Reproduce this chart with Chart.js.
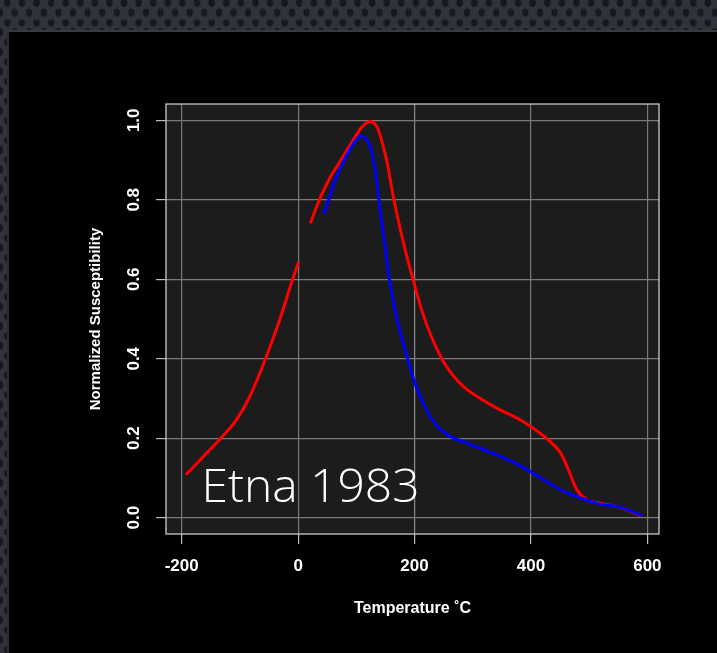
<!DOCTYPE html>
<html>
<head>
<meta charset="utf-8">
<script src="https://cdn.jsdelivr.net/npm/chart.js@4.4.1/dist/chart.umd.min.js"></script>
<style>
  html, body { margin: 0; padding: 0; }
  body {
    width: 717px; height: 653px; overflow: hidden; position: relative;
    background-color: #30333a;
    background-image:
      radial-gradient(ellipse 3.6px 4.6px at 7.3px 2.8px, #16181c 0 80%, rgba(22,24,28,0) 100%),
      radial-gradient(ellipse 3.6px 4.6px at 0px 12.6px, #16181c 0 80%, rgba(22,24,28,0) 100%),
      radial-gradient(ellipse 3.6px 4.6px at 14.6px 12.6px, #16181c 0 80%, rgba(22,24,28,0) 100%);
    background-size: 14.6px 19.6px;
  }
  #frame {
    position: absolute; left: 7px; top: 30px; right: 0; bottom: 0;
    background: #000;
    border-left: 2px solid #2c2d30;
    border-top: 2px solid #3a3b3e;
  }
  #c { position: absolute; left: 0; top: 0; }
</style>
</head>
<body>
<div id="frame"></div>
<canvas id="c" width="717" height="653"></canvas>
<script>
// Red curve (two segments, gap between 0 and ~20 C)
const redTemp = [-193, -175, -157.6, -134.7, -106, -83, -56, -31.6, -9.8, 1,
  null,
  21, 38.3, 55, 72.7, 89.9, 107, 117, 124, 131, 136, 141, 147, 153, 164.3, 181.4, 197.6, 216, 245, 265, 284, 313, 342, 382, 400, 428, 451, 462, 479, 496, 519.6, 548, 565, 590];
const redSus = [0.108, 0.135, 0.162, 0.197, 0.246, 0.305, 0.4, 0.498, 0.598, 0.644,
  null,
  0.741, 0.806, 0.856, 0.898, 0.939, 0.978, 0.993, 0.997, 0.992, 0.982, 0.962, 0.93, 0.893, 0.802, 0.689, 0.599, 0.506, 0.405, 0.36, 0.33, 0.3, 0.275, 0.246, 0.229, 0.198, 0.163, 0.129, 0.07, 0.045, 0.036, 0.028, 0.02, 0.004];

// Blue curve
const blueTemp = [44, 52.6, 61.2, 78.4, 95.5, 103, 108, 113, 118, 124.2, 132.8, 138.5, 147.1, 156.9, 164.3, 172.9, 188.3, 198.6, 210, 227, 245, 262, 290, 319, 342, 370, 399, 430, 456, 485, 514, 554, 575, 591];
const blueSus = [0.764, 0.8, 0.84, 0.898, 0.942, 0.955, 0.961, 0.959, 0.95, 0.932, 0.873, 0.802, 0.706, 0.599, 0.538, 0.481, 0.4, 0.347, 0.305, 0.254, 0.222, 0.204, 0.188, 0.171, 0.158, 0.14, 0.116, 0.088, 0.066, 0.05, 0.036, 0.026, 0.015, 0.005];

const xTicks = [-200, 0, 200, 400, 600];
const yTicks = [0.0, 0.2, 0.4, 0.6, 0.8, 1.0];
const yTickLabels = ['0.0', '0.2', '0.4', '0.6', '0.8', '1.0'];

const xTitle = 'Temperature ˚C';
const yTitle = 'Normalized Susceptibility';
const annotation = 'Etna 1983';

function pts(xs, ys) {
  return xs.map((x, i) => (x === null ? { x: NaN, y: null } : { x: x, y: ys[i] }));
}

const bgPlugin = {
  id: 'plotbg',
  beforeDraw(chart) {
    const { ctx, chartArea: a } = chart;
    ctx.save();
    ctx.fillStyle = '#1c1c1c';
    ctx.fillRect(a.left, a.top, a.right - a.left, a.bottom - a.top);
    ctx.restore();
  },
  afterDatasetsDraw(chart) {
    const { ctx, chartArea: a, scales } = chart;
    ctx.save();
    ctx.strokeStyle = '#c9c9c9';
    ctx.lineWidth = 1.3;
    ctx.strokeRect(a.left, a.top, a.right - a.left, a.bottom - a.top);
    // annotation text
    const x0 = scales.x.getPixelForValue(-166);
    const y0 = scales.y.getPixelForValue(0.039);
    ctx.font = '300 46px "Open Sans", "Lato", sans-serif';
    ctx.fillStyle = '#ffffff';
    ctx.textBaseline = 'alphabetic';
    ctx.textAlign = 'left';
    const w = ctx.measureText(annotation).width;
    const target = 218;
    ctx.translate(x0, y0);
    ctx.scale(target / w, 1);
    ctx.fillText(annotation, 0, 0);
    ctx.restore();
  }
};

const tickFont = { family: '"Liberation Sans", Arial, sans-serif', size: 17, weight: 'bold' };

new Chart(document.getElementById('c'), {
  type: 'scatter',
  data: {
    datasets: [
      {
        label: 'blue',
        data: pts(blueTemp, blueSus),
        showLine: true,
        borderColor: '#0000ff',
        borderWidth: 3,
        pointRadius: 0,
        cubicInterpolationMode: 'monotone',
        fill: false
      },
      {
        label: 'red',
        data: pts(redTemp, redSus),
        showLine: true,
        spanGaps: false,
        borderColor: '#ff0000',
        borderWidth: 3,
        pointRadius: 0,
        cubicInterpolationMode: 'monotone',
        fill: false
      }
    ]
  },
  options: {
    responsive: false,
    animation: false,
    events: [],
    layout: { padding: { top: 104, right: 58, left: 0, bottom: 0 } },
    plugins: { legend: { display: false }, tooltip: { enabled: false } },
    scales: {
      x: {
        type: 'linear',
        min: -227,
        max: 620,
        afterBuildTicks(scale) { scale.ticks = xTicks.map(v => ({ value: v })); },
        afterFit(scale) { scale.height = 119; },
        ticks: {
          color: '#ffffff',
          font: tickFont,
          padding: 12,
          maxRotation: 0,
          autoSkip: false,
          callback: (v) => String(v)
        },
        grid: {
          color: (c) => (c.tick && c.tick.value === 200 ? '#8a8a8a' : '#7a7a7a'),
          lineWidth: 1.2, tickLength: 10, tickColor: '#bdbdbd', tickWidth: 1.2
        },
        border: { display: false },
        title: {
          display: true,
          text: xTitle,
          color: '#ffffff',
          font: { family: '"Liberation Sans", Arial, sans-serif', size: 16, weight: 'bold' },
          padding: { top: 0, bottom: 35 }
        }
      },
      y: {
        type: 'linear',
        min: -0.041,
        max: 1.041,
        afterBuildTicks(scale) { scale.ticks = yTicks.map(v => ({ value: v })); },
        afterFit(scale) { scale.width = 166; },
        ticks: {
          color: '#ffffff',
          font: tickFont,
          padding: 10,
          minRotation: 90,
          maxRotation: 90,
          crossAlign: 'center',
          autoSkip: false,
          callback: (v) => { const i = yTicks.indexOf(v); return i >= 0 ? yTickLabels[i] : ''; }
        },
        grid: { color: '#7a7a7a', lineWidth: 1.2, tickLength: 10, tickColor: '#bdbdbd', tickWidth: 1.2 },
        border: { display: false },
        title: {
          display: true,
          text: yTitle,
          color: '#ffffff',
          font: { family: '"Liberation Sans", Arial, sans-serif', size: 15, weight: 'bold' },
          padding: { top: 87, bottom: 0 }
        }
      }
    }
  },
  plugins: [bgPlugin]
});
</script>
</body>
</html>
